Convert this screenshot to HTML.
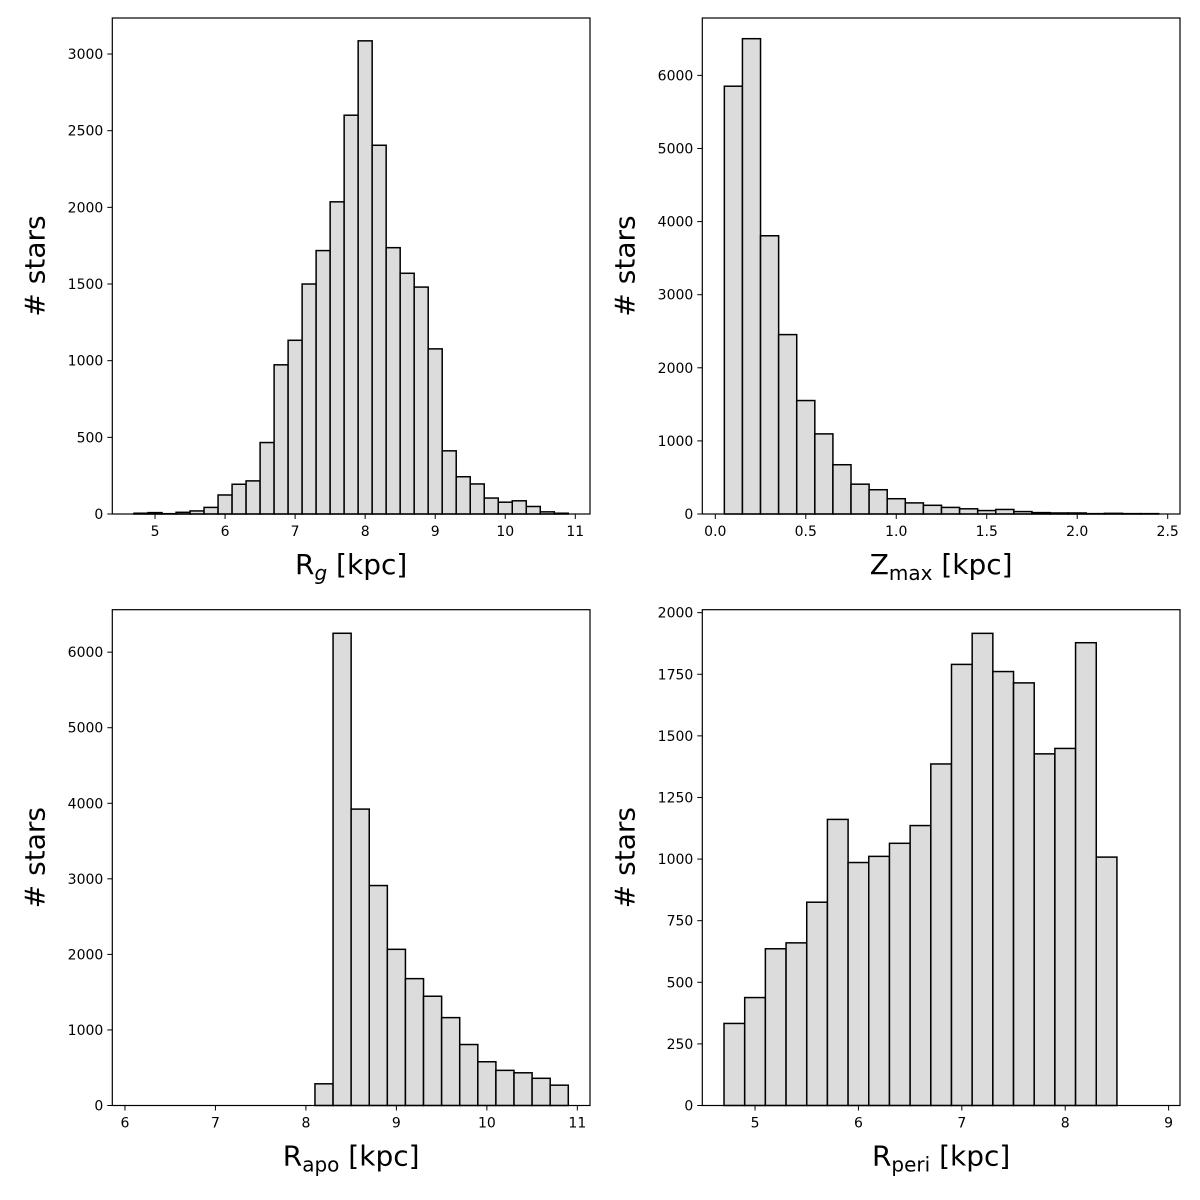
<!DOCTYPE html>
<html><head><meta charset="utf-8"><style>
body{margin:0;background:#fff}
svg{display:block}
text{font-family:"DejaVu Sans","Liberation Sans",sans-serif;fill:#000}
</style></head><body>
<svg id="fig" width="1200" height="1200" viewBox="0 0 1200 1200"></svg>
<script>
// Panel A: R_g
const rgBinStart = 4.7, rgBinWidth = 0.2;
const rgCounts = [5,9,2,11,20,43,124,194,216,466,973,1133,1500,1718,2036,2601,3086,2405,1737,1570,1480,1077,412,243,196,104,77,86,49,14,5];
const rgXTicks = [5,6,7,8,9,10,11];
const rgYTicks = [0,500,1000,1500,2000,2500,3000];
// Panel B: Z_max
const zBinStart = 0.05, zBinWidth = 0.1;
const zCounts = [5852,6502,3806,2454,1552,1096,674,408,332,209,152,119,90,71,47,62,33,19,14,14,5,9,5,5];
const zXTicks = [0.0,0.5,1.0,1.5,2.0,2.5];
const zYTicks = [0,1000,2000,3000,4000,5000,6000];
// Panel C: R_apo
const apoBinStart = 6.1, apoBinWidth = 0.2;
const apoCounts = [0,0,0,0,0,0,0,0,0,0,287,6250,3923,2911,2067,1679,1446,1163,807,579,465,433,360,269];
const apoXTicks = [6,7,8,9,10,11];
const apoYTicks = [0,1000,2000,3000,4000,5000,6000];
// Panel D: R_peri
const periBinStart = 4.7, periBinWidth = 0.2;
const periCounts = [333,438,636,660,825,1161,986,1011,1064,1136,1386,1790,1916,1761,1715,1427,1449,1878,1008,0,0];
const periXTicks = [5,6,7,8,9];
const periYTicks = [0,250,500,750,1000,1250,1500,1750,2000];

const NS = "http://www.w3.org/2000/svg";
const svg = document.getElementById('fig');
function mk(tag, attrs, parent){const e=document.createElementNS(NS,tag);for(const k in attrs)e.setAttribute(k,attrs[k]);(parent||svg).appendChild(e);return e;}

function panel(opt){
  const g = mk('g',{});
  
  
  const L=opt.box[0],T=opt.box[1],R=opt.box[2],B=opt.box[3];
  const sx = v => L + (v-opt.xmin)/(opt.xmax-opt.xmin)*(R-L);
  const sy = v => B - (v-opt.ymin)/(opt.ymax-opt.ymin)*(B-T);
  opt.counts.forEach((c,i)=>{
    const x0 = sx(opt.start + i*opt.width), x1 = sx(opt.start+(i+1)*opt.width);
    const r = mk('rect',{x:x0,y:sy(c),width:x1-x0,height:Math.max(0,sy(0)-sy(c)),fill:'#dcdcdc',stroke:'#000','stroke-width':1.5},g);
    
    
  });
  const frame = mk('rect',{x:L,y:T,width:R-L,height:B-T,fill:'none',stroke:'#000','stroke-width':1.2},g);
  
  
  opt.xticks.forEach(v=>{
    const x=sx(v);
    mk('line',{x1:x,x2:x,y1:B,y2:B+5,stroke:'#000','stroke-width':1},g);
    const t=mk('text',{x:x,y:B+22,'text-anchor':'middle','font-size':14},g);
    t.textContent = opt.xfmt ? v.toFixed(1) : String(v);
    
    
  });
  opt.yticks.forEach(v=>{
    const y=sy(v);
    mk('line',{x1:L-5,x2:L,y1:y,y2:y,stroke:'#000','stroke-width':1},g);
    const t=mk('text',{x:L-9,y:y+5,'text-anchor':'end','font-size':14},g);
    t.textContent = String(v);
    
    
  });
  const yl=mk('text',{x:0,y:0,'text-anchor':'middle','font-size':28,transform:`translate(${L-68},${(T+B)/2}) rotate(-90)`},g);
  yl.textContent='# stars';
  
  
  const xl=mk('text',{x:(L+R)/2,y:B+60,'text-anchor':'middle','font-size':28},g);
  xl.innerHTML = opt.xlabel;
  
  
}

panel({name:'rg-histogram',box:[112.3,18,590,514],xmin:4.39,xmax:11.21,ymin:0,ymax:3235,counts:rgCounts,start:rgBinStart,width:rgBinWidth,xticks:rgXTicks,yticks:rgYTicks,
  xlabel:'R<tspan font-size="20" font-style="italic" dy="6">g</tspan><tspan dy="-6"> [kpc]</tspan>'});
panel({name:'zmax-histogram',box:[702.3,18,1180,514],xmin:-0.0718,xmax:2.568,ymin:0,ymax:6785,counts:zCounts,start:zBinStart,width:zBinWidth,xticks:zXTicks,yticks:zYTicks,xfmt:true,
  xlabel:'Z<tspan font-size="20" dy="6">max</tspan><tspan dy="-6"> [kpc]</tspan>'});
panel({name:'rapo-histogram',box:[112.3,609.7,590,1105.5],xmin:5.86,xmax:11.14,ymin:0,ymax:6562,counts:apoCounts,start:apoBinStart,width:apoBinWidth,xticks:apoXTicks,yticks:apoYTicks,
  xlabel:'R<tspan font-size="20" dy="6">apo</tspan><tspan dy="-6"> [kpc]</tspan>'});
panel({name:'rperi-histogram',box:[702.3,609.7,1180,1105.5],xmin:4.49,xmax:9.11,ymin:0,ymax:2012,counts:periCounts,start:periBinStart,width:periBinWidth,xticks:periXTicks,yticks:periYTicks,
  xlabel:'R<tspan font-size="20" dy="6">peri</tspan><tspan dy="-6"> [kpc]</tspan>'});
</script>
</body></html>
